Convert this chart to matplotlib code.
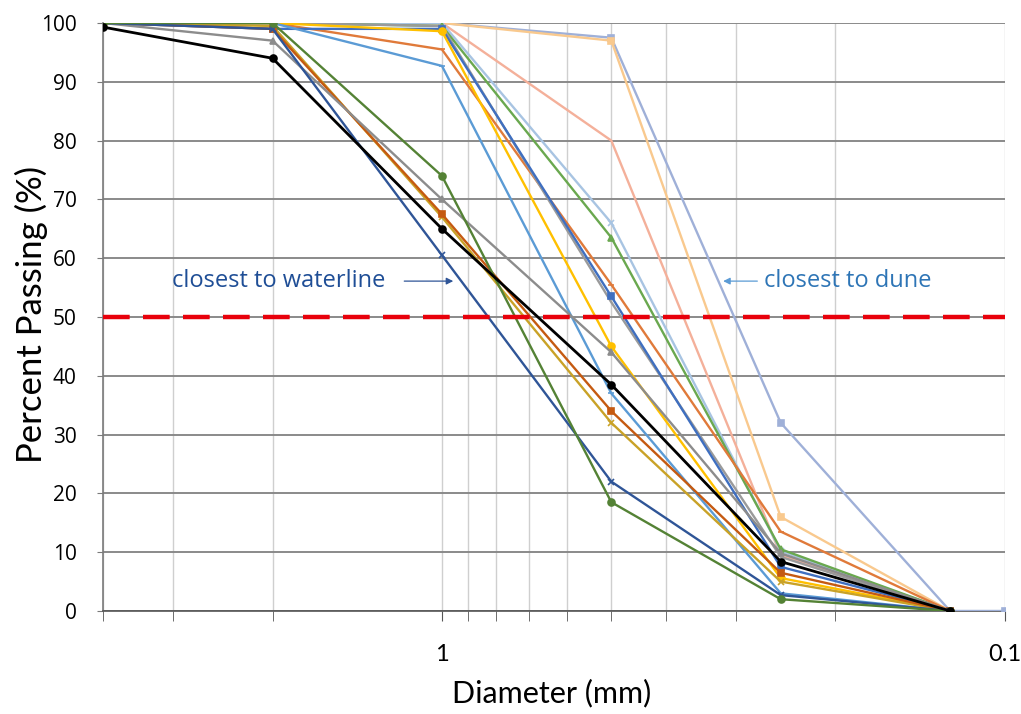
import numpy as np
import matplotlib
matplotlib.use('Agg')
import matplotlib.pyplot as plt
from matplotlib.ticker import FixedLocator, LogLocator, NullFormatter, FixedFormatter


# sieve sizes (mm)
diameters = [4, 2, 1, 0.5, 0.25, 0.125]

# percent passing for each sample
black_circle = [99.3, 94, 65, 38.5, 8.4, 0]
grey_triangle = [100, 97, 70, 44, 9.8, 0]
green_circle = [100, 100, 74, 18.5, 2.0, 0]
darkblue_cross = [100, 99, 60.5, 22, 2.7, 0]
brown_square = [100, 99, 67.5, 34, 6.5, 0]
darkgold_cross = [100, 99.5, 67, 32, 5.0, 0]
orange_dash = [100, 100, 95.5, 55.5, 13.5, 0]
lightblue_dash = [100, 100, 92.7, 37, 3.0, 0]
gold_circle = [100, 100, 98.6, 45, 5.6, 0]
blue_square = [100, 99, 99, 53.5, 7.5, 0]
grey_plain = [100, 100, 99.5, 52.5, 9.2, 0]
green_triangle = [100, 100, 99.5, 63.5, 10.5, 0]
paleblue_cross = [100, 100, 100, 66, 10.2, 0]
salmon_plain = [100, 100, 100, 80, 9.5, 0]
peach_square = [100, 100, 100, 97, 16, 0]

# the dune sample also has the 0.1 mm point
lavender_diameters = [4, 2, 1, 0.5, 0.25, 0.125, 0.1]
lavender_square = [100, 100, 100, 97.5, 32, 0, 0]

series = [
    (lavender_square, '#9fb0d8', 's', lavender_diameters),
    (peach_square, '#f9c98e', 's', diameters),
    (salmon_plain, '#f4b09a', None, diameters),
    (paleblue_cross, '#a8c4e2', 'x', diameters),
    (green_triangle, '#6aa84f', '^', diameters),
    (orange_dash, '#e07a3a', '_', diameters),
    (grey_plain, '#9a9a9a', None, diameters),
    (blue_square, '#3f6fc0', 's', diameters),
    (gold_circle, '#ffc000', 'o', diameters),
    (lightblue_dash, '#5b9bd5', '_', diameters),
    (darkgold_cross, '#c9a227', 'x', diameters),
    (brown_square, '#c55a11', 's', diameters),
    (grey_triangle, '#8c8c8c', '^', diameters),
    (darkblue_cross, '#2f5597', 'x', diameters),
    (green_circle, '#548235', 'o', diameters),
    (black_circle, '#000000', 'o', diameters),
]

fig = plt.figure(figsize=(10.21, 7.14), dpi=100)
ax = fig.add_axes([0.101, 0.1443, 0.883, 0.8235])

ax.set_xscale('log')
ax.set_xlim(4, 0.1)
ax.set_ylim(0, 100)

for values, colour, marker, xs in series:
    lw = 2.0 if colour == '#000000' else 1.7
    ax.plot(xs, values, color=colour, lw=lw, marker=marker,
            markersize=5, markeredgewidth=1.2, zorder=3)

# 50 % line
ax.axhline(50, color='#e8000b', lw=3.2, dashes=(6, 3), zorder=4)

# grids
ax.set_yticks(np.arange(0, 101, 10))
ax.xaxis.set_major_locator(FixedLocator([0.1, 1]))
ax.xaxis.set_major_formatter(FixedFormatter(['0.1', '1']))
ax.xaxis.set_minor_locator(LogLocator(base=10, subs=np.arange(2, 10)))
ax.xaxis.set_minor_formatter(NullFormatter())
ax.grid(axis='y', which='major', color='#8a8a8a', lw=1.4, zorder=0)
ax.grid(axis='x', which='both', color='#cfcfcf', lw=1.0, zorder=0)
ax.set_axisbelow(True)

for side in ['top', 'right']:
    ax.spines[side].set_visible(False)
ax.spines['left'].set_color('#7a7a7a')
ax.spines['bottom'].set_color('#555555')
ax.spines['left'].set_linewidth(1.2)
ax.spines['bottom'].set_linewidth(1.2)

ax.tick_params(axis='y', which='major', length=4, color='#7a7a7a', pad=15,
               labelsize=15)
ax.tick_params(axis='x', which='major', length=7, color='#555555', pad=17,
               labelsize=17)
ax.tick_params(axis='x', which='minor', length=7, color='#555555')
for lab in ax.get_yticklabels():
    lab.set_fontfamily('Open Sans')
for lab in ax.get_xticklabels():
    lab.set_fontfamily('Lato')

ax.set_xlabel('Diameter (mm)', fontsize=22, family='Lato')
ax.xaxis.set_label_coords(0.498, -0.115)
ax.set_ylabel('Percent Passing (%)', fontsize=25, family='Lato')
ax.yaxis.set_label_coords(-0.061, 0.505)

# annotations
ax.text(1.26, 56.1, 'closest to waterline', color='#1f4e96', fontsize=17,
        family='Open Sans', ha='right', va='center')
ax.annotate('', xy=(0.944, 56.1), xytext=(1.18, 56.1),
            arrowprops=dict(arrowstyle='-|>', color='#2f5597', lw=0.9,
                            mutation_scale=10))
ax.text(0.268, 56.1, 'closest to dune', color='#2e75b6', fontsize=17,
        family='Open Sans', ha='left', va='center')
ax.annotate('', xy=(0.32, 56.1), xytext=(0.272, 56.1),
            arrowprops=dict(arrowstyle='-|>', color='#5b9bd5', lw=0.9,
                            mutation_scale=10))

fig.savefig('out.png', dpi=100)
